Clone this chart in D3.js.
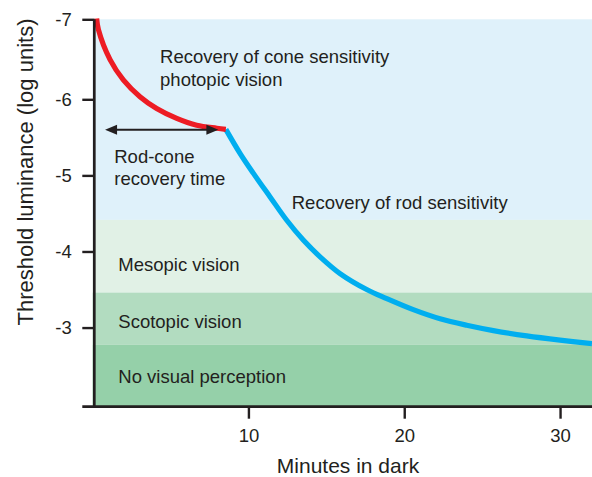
<!DOCTYPE html>
<html>
<head>
<meta charset="utf-8">
<script src="https://cdn.jsdelivr.net/npm/d3@7"></script>
<style>
  html, body { margin: 0; padding: 0; background: #fff; }
  svg { display: block; font-family: "Liberation Sans", Arial, Helvetica, sans-serif; }
</style>
</head>
<body>
<svg id="chart" width="592" height="477"></svg>
<script>
// Dark adaptation curve: threshold luminance (log units) vs minutes in dark

// Cone branch (photopic recovery)
const coneMinutes = [0.26, 0.37, 1.12, 1.97, 3.04, 4.11, 5.40, 6.68, 7.97, 8.55];
const coneThreshold = [-7.01, -6.874, -6.496, -6.243, -6.033, -5.88, -5.75, -5.66, -5.62, -5.605];

// Rod branch (scotopic recovery)
const rodMinutes = [8.55, 9.46, 10.31, 11.38, 12.46, 13.52, 14.60, 15.88, 17.59, 18.88, 20.58, 22.30, 24.01, 25.72, 27.86, 30.0, 32.05];
const rodThreshold = [-5.605, -5.29, -5.03, -4.72, -4.41, -4.15, -3.93, -3.71, -3.50, -3.38, -3.235, -3.115, -3.03, -2.96, -2.89, -2.835, -2.79];

// Vision regimes as horizontal bands (log threshold limits)
const bandNames = ["Photopic", "Mesopic", "Scotopic", "None"];
const bandTop = [-7.0, -4.415, -3.46, -2.773];
const bandBottom = [-4.415, -3.46, -2.773, -1.96];
const bandColors = ["#dff1fa", "#e1f1e6", "#b2dcc0", "#95d0a9"];

// Axis ticks
const xTicks = [10, 20, 30];
const yTicks = [-7, -6, -5, -4, -3];

// Rod-cone break arrow (minutes, log threshold)
const arrowFrom = [0.8, -5.6];
const arrowTo = [8.07, -5.6];

// Text annotations (minutes, log threshold at baseline)
const noteText = ["Recovery of cone sensitivity", "photopic vision", "Rod-cone", "recovery time",
                  "Recovery of rod sensitivity", "Mesopic vision", "Scotopic vision", "No visual perception"];
const noteMinute = [4.33, 4.33, 1.39, 1.39, 12.78, 1.65, 1.65, 1.65];
const noteLevel = [-6.454, -6.161, -5.16, -4.874, -4.555, -3.745, -2.995, -2.278];

const ink = "#231f20";
const svg = d3.select("#chart");

const x = d3.scaleLinear().domain([0, 32.05]).range([92.6, 592]);
const y = d3.scaleLinear().domain([-1.96, -6, -7]).range([406.7, 99.3, 19.3]);

// Background bands
svg.append("g").selectAll("rect")
  .data(bandNames)
  .join("rect")
  .attr("x", x(0))
  .attr("width", x(32.05) - x(0))
  .attr("y", (d, i) => y(bandTop[i]))
  .attr("height", (d, i) => y(bandBottom[i]) - y(bandTop[i]))
  .attr("fill", (d, i) => bandColors[i]);

// Annotations
svg.append("g").selectAll("text")
  .data(noteText)
  .join("text")
  .attr("x", (d, i) => x(noteMinute[i]))
  .attr("y", (d, i) => y(noteLevel[i]))
  .attr("font-size", 18.5)
  .attr("fill", ink)
  .text(d => d);

// Curves
const line = d3.line()
  .x(d => x(d[0]))
  .y(d => y(d[1]))
  .curve(d3.curveCatmullRom.alpha(0.5));

svg.append("path")
  .datum(rodMinutes.map((m, i) => [m, rodThreshold[i]]))
  .attr("d", line)
  .attr("fill", "none")
  .attr("stroke", "#00aeef")
  .attr("stroke-width", 5.2);

svg.append("path")
  .datum(coneMinutes.map((m, i) => [m, coneThreshold[i]]))
  .attr("d", line)
  .attr("fill", "none")
  .attr("stroke", "#ed1c24")
  .attr("stroke-width", 5.2);

// Double-headed arrow
const ax0 = x(arrowFrom[0]), ax1 = x(arrowTo[0]), ay = y(arrowFrom[1]);
const headLen = 12, headHalf = 5;
svg.append("line")
  .attr("x1", ax0 + headLen - 2).attr("x2", ax1 - headLen + 2)
  .attr("y1", ay).attr("y2", ay)
  .attr("stroke", ink).attr("stroke-width", 2);
svg.append("path")
  .attr("d", `M${ax0},${ay} L${ax0 + headLen},${ay - headHalf} L${ax0 + headLen},${ay + headHalf} Z`)
  .attr("fill", ink);
svg.append("path")
  .attr("d", `M${ax1},${ay} L${ax1 - headLen},${ay - headHalf} L${ax1 - headLen},${ay + headHalf} Z`)
  .attr("fill", ink);

// Y axis
const yAxisX = 94.3;
const yAxis = svg.append("g")
  .attr("transform", `translate(${yAxisX},0)`)
  .call(d3.axisLeft(y).tickValues(yTicks).tickSize(12).tickPadding(10.6).tickFormat(d => String(d)));
yAxis.select(".domain").remove();
yAxis.selectAll(".tick line").attr("stroke", ink).attr("stroke-width", 2.4);
yAxis.selectAll(".tick text")
  .attr("font-size", 18.5)
  .attr("font-family", "Liberation Sans, Arial, sans-serif")
  .attr("fill", ink);
svg.append("line")
  .attr("x1", yAxisX).attr("x2", yAxisX)
  .attr("y1", y(-7)).attr("y2", y(-1.96))
  .attr("stroke", ink).attr("stroke-width", 2.7);

// X axis
const xAxisY = y(-1.96);
const xAxis = svg.append("g")
  .attr("transform", `translate(0,${xAxisY})`)
  .call(d3.axisBottom(x).tickValues(xTicks).tickSize(12).tickPadding(10.6).tickFormat(d => String(d)));
xAxis.select(".domain").remove();
xAxis.selectAll(".tick line").attr("stroke", ink).attr("stroke-width", 2.4);
xAxis.selectAll(".tick text")
  .attr("font-size", 18.5)
  .attr("font-family", "Liberation Sans, Arial, sans-serif")
  .attr("fill", ink);
svg.append("line")
  .attr("x1", yAxisX - 12).attr("x2", x(32.05))
  .attr("y1", xAxisY).attr("y2", xAxisY)
  .attr("stroke", ink).attr("stroke-width", 2.7);

// Axis titles
svg.append("text")
  .attr("x", 348).attr("y", 473.3)
  .attr("text-anchor", "middle")
  .attr("font-size", 21)
  .attr("fill", ink)
  .text("Minutes in dark");

svg.append("text")
  .attr("transform", "translate(33.3,172) rotate(-90)")
  .attr("text-anchor", "middle")
  .attr("font-size", 22)
  .attr("fill", ink)
  .text("Threshold luminance (log units)");
</script>
</body>
</html>
